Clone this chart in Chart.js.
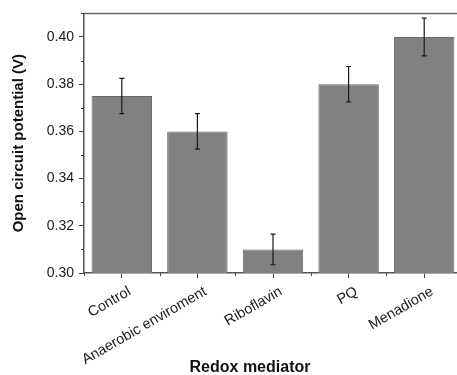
<!DOCTYPE html>
<html>
<head>
<meta charset="utf-8">
<script src="https://cdn.jsdelivr.net/npm/chart.js@4"></script>
<style>
html,body{margin:0;padding:0;background:#fff;overflow:hidden;}
#wrap{width:470px;height:375px;}
</style>
</head>
<body>
<div id="wrap"><canvas id="c" width="470" height="375"></canvas></div>
<script>
const categories = ["Control", "Anaerobic enviroment", "Riboflavin", "PQ", "Menadione"];
const values = [0.375, 0.360, 0.310, 0.380, 0.400];
const errors = [0.0075, 0.0075, 0.0065, 0.0075, 0.008];
const yTickLabels = [0.30, 0.32, 0.34, 0.36, 0.38, 0.40];
const xTitle = "Redox mediator";
const yTitle = "Open circuit potential (V)";

const FONT = "'Liberation Sans', Arial, sans-serif";

const errorBars = {
  id: 'errorBars',
  afterDatasetsDraw(chart) {
    const ctx = chart.ctx;
    const meta = chart.getDatasetMeta(0);
    const y = chart.scales.y;
    ctx.save();
    ctx.strokeStyle = '#1a1a1a';
    ctx.lineWidth = 1.2;
    meta.data.forEach((bar, i) => {
      const x = bar.x;
      const t = y.getPixelForValue(values[i] + errors[i]);
      const b = y.getPixelForValue(values[i] - errors[i]);
      ctx.beginPath();
      ctx.moveTo(x, t); ctx.lineTo(x, b);
      ctx.moveTo(x - 2.5, t); ctx.lineTo(x + 2.5, t);
      ctx.moveTo(x - 2.5, b); ctx.lineTo(x + 2.5, b);
      ctx.stroke();
    });
    ctx.restore();
  }
};

const frame = {
  id: 'frame',
  afterDraw(chart) {
    const ctx = chart.ctx;
    const a = chart.chartArea;
    const x = chart.scales.x, y = chart.scales.y;
    ctx.save();
    ctx.strokeStyle = '#666';
    ctx.lineWidth = 1.5;
    ctx.beginPath();
    ctx.moveTo(a.left, a.top); ctx.lineTo(chart.width, a.top);
    ctx.stroke();
    // minor ticks
    ctx.strokeStyle = '#444';
    ctx.lineWidth = 1;
    ctx.beginPath();
    for (let i = 0; i <= categories.length; i++) {
      const px = Math.round(x.getPixelForValue(i - 0.5)) + 0.5;
      ctx.moveTo(px, a.bottom); ctx.lineTo(px, a.bottom + 3);
    }
    for (let i = 0; i < yTickLabels.length; i++) {
      const v = yTickLabels[i] + 0.01;
      const py = Math.round(y.getPixelForValue(v)) + 0.5;
      ctx.moveTo(a.left, py); ctx.lineTo(a.left - 3, py);
    }
    ctx.stroke();
    // x axis title
    ctx.fillStyle = '#111';
    ctx.font = "bold 16px " + FONT;
    ctx.textAlign = 'center';
    ctx.textBaseline = 'middle';
    ctx.fillText(xTitle, 250, 368);
    ctx.restore();
  }
};

new Chart(document.getElementById('c'), {
  type: 'bar',
  data: {
    labels: categories,
    datasets: [{
      data: values,
      backgroundColor: '#818181',
      borderColor: '#6a6a6a',
      borderWidth: 1,
      barPercentage: 0.8,
      categoryPercentage: 1.0
    }]
  },
  options: {
    responsive: false,
    animation: false,
    devicePixelRatio: 1,
    layout: { padding: { top: 10, right: 8, left: 0, bottom: 0 } },
    plugins: { legend: { display: false }, tooltip: { enabled: false } },
    scales: {
      x: {
        offset: true,
        grid: { drawOnChartArea: false, offset: false, tickLength: 5, color: '#444', tickColor: '#444' },
        border: { color: '#555', width: 1.5 },
        ticks: { color: '#1a1a1a', font: { family: FONT, size: 14.5 }, minRotation: 30, maxRotation: 30, padding: 5, labelOffset: 8 },
        title: { display: false },
        afterFit(s) { s.height = 102; }
      },
      y: {
        min: 0.30, max: 0.41,
        grid: { drawOnChartArea: false, tickLength: 5, tickColor: '#444' },
        border: { color: '#555', width: 1.5 },
        ticks: {
          color: '#1a1a1a', font: { family: FONT, size: 14 }, padding: 5,
          callback: v => Number(v).toFixed(2)
        },
        afterBuildTicks(s) { s.ticks = yTickLabels.map(v => ({ value: v })); },
        title: { display: true, text: yTitle, color: '#111', font: { family: FONT, size: 15, weight: 'bold' }, padding: { top: 10, bottom: 0 } },
        afterFit(s) { s.width = 84; }
      }
    }
  },
  plugins: [errorBars, frame]
});
</script>
</body>
</html>
